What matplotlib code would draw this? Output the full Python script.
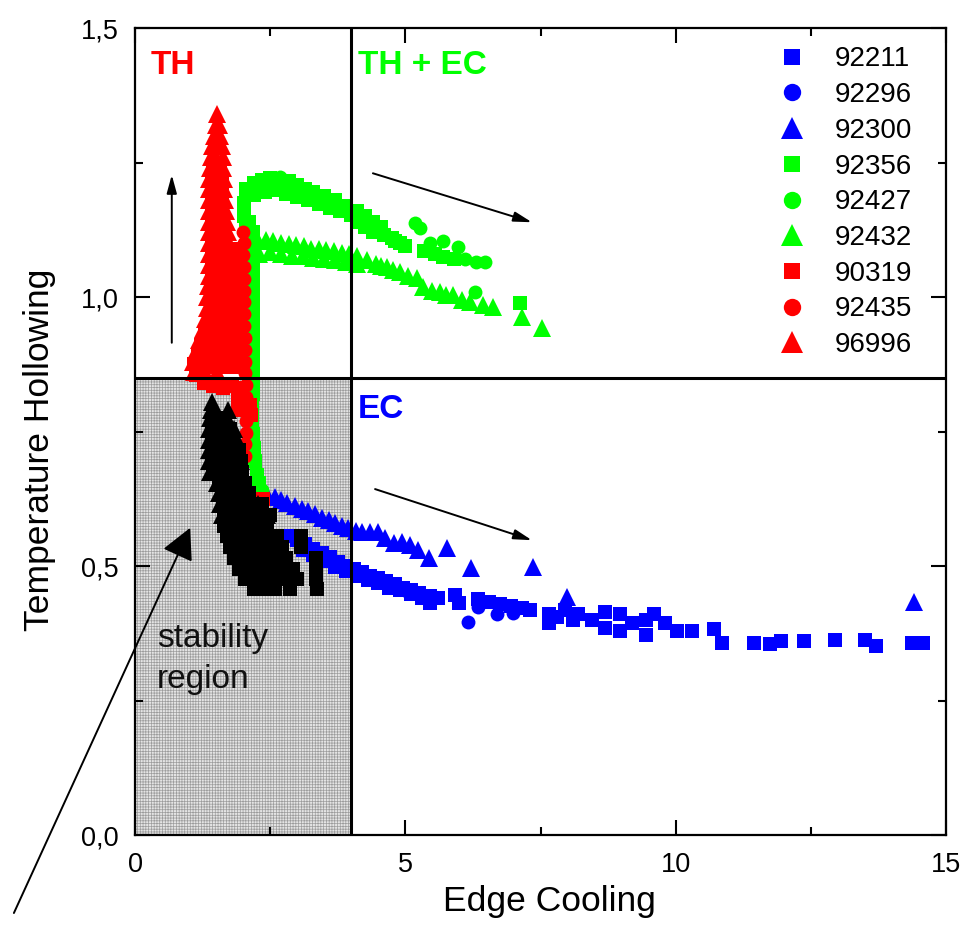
import numpy as np
import matplotlib
matplotlib.use("Agg")
from matplotlib import pyplot as plt
from matplotlib.patches import Rectangle
from matplotlib.ticker import MultipleLocator, FuncFormatter

plt.rcParams['font.family'] = ['Liberation Sans', 'DejaVu Sans']
plt.rcParams['hatch.linewidth'] = 0.5
plt.rcParams['hatch.color'] = '#9c9c9c'

#%% shots: edge cooling vs temperature hollowing, (x, y) pairs
# 92211 - EC, squares
ec_sq = [(2.85, 0.555), (3.0, 0.548), (3.15, 0.54), (3.3, 0.532), (3.45, 0.524), (3.6, 0.516),
         (3.75, 0.508), (3.9, 0.5), (4.05, 0.494), (4.2, 0.488), (4.35, 0.482), (4.5, 0.478),
         (4.65, 0.472), (4.8, 0.466), (4.95, 0.46), (5.1, 0.455), (5.25, 0.45), (5.45, 0.445),
         (5.6, 0.44), (3.1, 0.53), (3.3, 0.52), (3.5, 0.51), (3.7, 0.498), (3.9, 0.49),
         (4.1, 0.482), (4.3, 0.474), (4.5, 0.468), (4.7, 0.46), (4.9, 0.455), (5.1, 0.448),
         (5.3, 0.44), (5.45, 0.432), (5.92, 0.446), (6.0, 0.432), (6.35, 0.438), (6.55, 0.434),
         (6.75, 0.43), (6.95, 0.425), (7.15, 0.422), (7.3, 0.418), (7.65, 0.41), (7.65, 0.395),
         (7.8, 0.405), (7.95, 0.418), (8.1, 0.40), (8.2, 0.41), (8.45, 0.40), (8.7, 0.415),
         (8.7, 0.385), (8.97, 0.41), (8.97, 0.38), (9.2, 0.395), (9.45, 0.40), (9.45, 0.372),
         (9.6, 0.41), (9.8, 0.395), (10.03, 0.38), (10.3, 0.38), (10.7, 0.383), (10.85, 0.357),
         (11.45, 0.357), (11.75, 0.355), (11.95, 0.36), (12.37, 0.36), (12.95, 0.362),
         (13.5, 0.362), (13.7, 0.352), (14.37, 0.356), (14.57, 0.356)]
# 92296 - EC, circles
ec_ci = [(5.05, 0.452), (5.4, 0.44), (6.35, 0.424), (6.16, 0.396), (6.7, 0.41), (7.0, 0.413)]
# 92300 - EC, triangles
ec_tr = [(2.45, 0.632), (2.58, 0.628), (2.7, 0.622), (2.82, 0.618), (2.95, 0.612), (3.08, 0.606),
         (3.2, 0.602), (3.32, 0.596), (3.45, 0.59), (3.58, 0.585), (3.7, 0.58), (3.82, 0.575),
         (3.94, 0.57), (4.08, 0.566), (4.2, 0.563), (4.35, 0.563), (4.49, 0.563), (4.62, 0.552),
         (4.79, 0.543), (4.94, 0.545), (5.09, 0.539), (5.23, 0.530), (5.44, 0.515), (5.77, 0.533),
         (6.21, 0.496), (7.36, 0.498), (7.99, 0.442), (14.41, 0.433)]

# 92356 - TH + EC, squares
thec_sq = [(2.02, 1.175), (2.02, 1.15), (2.05, 1.13), (2.05, 1.2), (2.2, 1.212), (2.35, 1.218),
           (2.5, 1.222), (2.85, 1.215), (3.0, 1.208), (3.15, 1.2), (3.3, 1.195), (3.5, 1.188),
           (3.7, 1.18), (3.9, 1.17), (2.2, 1.19), (2.4, 1.195), (2.6, 1.198), (2.8, 1.192),
           (3.0, 1.185), (3.2, 1.18), (3.4, 1.172), (3.6, 1.165), (3.8, 1.16), (4.0, 1.152),
           (4.1, 1.16), (4.1, 1.14), (4.25, 1.15), (4.25, 1.13), (4.4, 1.14), (4.4, 1.12),
           (4.55, 1.13), (4.6, 1.115), (4.75, 1.11), (4.8, 1.105), (4.9, 1.1), (5.0, 1.095),
           (5.35, 1.085), (5.55, 1.08), (5.7, 1.075), (5.9, 1.07), (7.12, 0.989),
           (2.1, 1.14), (2.18, 1.12), (2.18, 1.095), (2.18, 1.07), (2.18, 1.045), (2.18, 1.02),
           (2.18, 0.995), (2.18, 0.97), (2.18, 0.945), (2.18, 0.92), (2.18, 0.895), (2.18, 0.87),
           (2.18, 0.845), (2.18, 0.82), (2.17, 0.795), (2.17, 0.77), (2.18, 0.745), (2.2, 0.72),
           (2.22, 0.695), (2.25, 0.67), (2.3, 0.655)]
# 92427 - TH + EC, circles
thec_ci = [(2.68, 1.224), (5.18, 1.138), (5.27, 1.128), (5.45, 1.1), (5.7, 1.105), (5.97, 1.093),
           (6.1, 1.07), (6.3, 1.065), (6.47, 1.065), (6.29, 1.009), (2.35, 0.641)]
# 92432 - TH + EC, triangles
thec_tr = [(2.28, 1.104), (2.42, 1.106), (2.56, 1.104), (2.70, 1.1), (2.84, 1.098), (2.98, 1.096),
           (3.12, 1.094), (3.26, 1.09), (3.40, 1.09), (3.54, 1.088), (3.68, 1.086), (3.82, 1.082),
           (3.96, 1.08), (4.10, 1.076), (2.30, 1.08), (2.50, 1.084), (2.70, 1.08), (2.90, 1.076),
           (3.10, 1.076), (3.30, 1.072), (3.50, 1.07), (3.70, 1.068), (3.90, 1.066), (4.10, 1.062),
           (4.29, 1.069), (4.45, 1.062), (4.55, 1.058), (4.66, 1.056), (4.78, 1.05), (4.9, 1.046),
           (5.05, 1.04), (5.21, 1.035), (5.33, 1.019), (5.5, 1.012), (5.64, 1.009), (5.76, 1.004),
           (5.88, 1.004), (6.05, 0.995), (6.2, 0.991), (6.44, 0.985), (6.62, 0.981), (7.16, 0.963),
           (7.53, 0.942)]

# 90319 - TH, squares (edge points, then the packed rows of the spike body)
th_sq = [(1.10, 0.875), (1.18, 0.895), (1.12, 0.855), (1.25, 0.86), (1.28, 0.84), (1.45, 0.835),
         (1.62, 0.83), (1.80, 0.835), (1.95, 0.83), (1.9, 0.81), (2.12, 0.80), (2.14, 0.78),
         (1.9, 0.79), (2.36, 0.625)]
th_sq_rows = [(1.25, [1.50]), (1.23, [1.44, 1.58]), (1.21, [1.42, 1.60]), (1.19, [1.42, 1.60]),
              (1.17, [1.42, 1.60]), (1.15, [1.42, 1.60]), (1.13, [1.42, 1.60]), (1.11, [1.42, 1.60]),
              (1.09, [1.42, 1.60, 1.74, 1.88]), (1.07, [1.42, 1.60, 1.74, 1.88]),
              (1.05, [1.42, 1.60, 1.74, 1.88]), (1.03, [1.42, 1.60, 1.74, 1.88]),
              (1.01, [1.42, 1.60, 1.74, 1.88]), (0.99, [1.40, 1.58, 1.74, 1.88]),
              (0.97, [1.40, 1.58, 1.74, 1.88]), (0.95, [1.36, 1.54, 1.70, 1.88]),
              (0.93, [1.30, 1.48, 1.66, 1.88]), (0.91, [1.22, 1.40, 1.58, 1.76, 1.88]),
              (0.89, [1.16, 1.34, 1.52, 1.70, 1.88]), (0.87, [1.12, 1.30, 1.48, 1.66, 1.84])]
# 92435 - TH, circles
th_ci = [(2.0, 1.12), (2.02, 1.10), (2.0, 1.078), (2.02, 1.056), (2.02, 1.034), (2.02, 1.012),
         (2.02, 0.99), (2.02, 0.968), (2.02, 0.946), (2.03, 0.924), (2.03, 0.902), (2.04, 0.88),
         (2.04, 0.858), (2.05, 0.836), (2.06, 0.814), (2.06, 0.792), (2.06, 0.77), (2.05, 0.748),
         (2.04, 0.726), (2.04, 0.704), (1.9, 1.06), (1.9, 1.0), (1.9, 0.94), (1.9, 0.88)]
# 96996 - TH, triangles
th_tr = [(1.52, 1.34), (1.49, 1.32), (1.55, 1.32), (1.46, 1.30), (1.58, 1.30),
         (1.42, 1.28), (1.54, 1.28), (1.60, 1.28), (1.40, 1.26), (1.50, 1.26), (1.62, 1.26),
         (1.38, 1.24), (1.52, 1.24), (1.63, 1.24), (1.37, 1.22), (1.50, 1.22), (1.64, 1.22),
         (1.36, 1.20), (1.50, 1.20), (1.65, 1.20), (1.36, 1.18), (1.50, 1.18), (1.66, 1.18),
         (1.36, 1.16), (1.52, 1.16), (1.68, 1.16), (1.36, 1.14), (1.52, 1.14), (1.70, 1.14),
         (1.37, 1.12), (1.54, 1.12), (1.72, 1.12), (1.37, 1.10), (1.54, 1.10), (1.74, 1.10),
         (1.37, 1.08), (1.56, 1.08), (1.76, 1.08), (1.36, 1.06), (1.56, 1.06), (1.76, 1.06),
         (1.36, 1.04), (1.55, 1.04), (1.75, 1.04), (1.35, 1.02), (1.54, 1.02), (1.74, 1.02),
         (1.34, 1.00), (1.52, 1.00), (1.72, 1.00), (1.33, 0.98), (1.52, 0.98), (1.72, 0.98),
         (1.30, 0.96), (1.48, 0.96), (1.70, 0.96), (1.25, 0.94), (1.44, 0.94), (1.66, 0.94),
         (1.18, 0.92), (1.38, 0.92), (1.60, 0.92), (1.12, 0.90), (1.32, 0.90), (1.56, 0.90),
         (1.08, 0.88), (1.28, 0.88), (1.52, 0.88), (1.10, 0.86), (1.30, 0.86), (1.52, 0.86)]

# points inside the stability region
stab_tr = [(1.42, 0.805), (1.40, 0.79), (1.72, 0.79), (1.38, 0.775), (1.52, 0.775), (1.70, 0.775),
           (1.36, 0.755), (1.52, 0.755), (1.72, 0.755), (1.84, 0.755),
           (1.36, 0.735), (1.52, 0.735), (1.70, 0.735), (1.88, 0.735),
           (1.36, 0.715), (1.52, 0.715), (1.70, 0.715), (1.92, 0.715),
           (1.36, 0.695), (1.52, 0.695), (1.70, 0.695), (1.96, 0.695),
           (1.38, 0.675), (1.54, 0.675), (1.72, 0.675), (1.98, 0.675),
           (1.52, 0.655), (1.66, 0.655), (1.82, 0.655), (2.00, 0.655),
           (1.56, 0.635), (1.72, 0.635), (1.88, 0.635), (2.04, 0.635),
           (1.58, 0.615), (1.76, 0.615), (1.94, 0.615), (2.10, 0.615), (2.28, 0.615),
           (1.60, 0.595), (1.78, 0.595), (1.96, 0.595), (2.14, 0.595), (2.32, 0.595), (2.45, 0.595)]
stab_sq = [(1.64, 0.575), (1.84, 0.575), (2.04, 0.575), (2.24, 0.575), (2.44, 0.575),
           (1.70, 0.555), (1.90, 0.555), (2.10, 0.555), (2.30, 0.555), (2.50, 0.555), (2.62, 0.555),
           (3.07, 0.555), (1.76, 0.535), (1.96, 0.535), (2.16, 0.535), (2.36, 0.535), (2.56, 0.535),
           (2.72, 0.535), (3.07, 0.535), (1.84, 0.515), (2.04, 0.515), (2.24, 0.515), (2.44, 0.515),
           (2.64, 0.515), (2.80, 0.515), (3.35, 0.515), (1.92, 0.495), (2.12, 0.495), (2.32, 0.495),
           (2.52, 0.495), (2.72, 0.495), (2.92, 0.495), (3.35, 0.495), (2.04, 0.475), (2.24, 0.475),
           (2.44, 0.475), (2.64, 0.475), (2.84, 0.475), (3.0, 0.475), (3.35, 0.475),
           (2.20, 0.457), (2.40, 0.457), (2.58, 0.457), (2.87, 0.457), (3.37, 0.457)]
stab_sq_rows = [(0.775, [1.44, 1.62]), (0.755, [1.42, 1.60, 1.76]), (0.735, [1.42, 1.60, 1.78]),
                (0.715, [1.42, 1.60, 1.78, 1.92]), (0.695, [1.42, 1.60, 1.78, 1.96]),
                (0.675, [1.44, 1.62, 1.80, 1.98]), (0.655, [1.56, 1.74, 1.90, 2.04]),
                (0.635, [1.60, 1.78, 1.96, 2.10]), (0.615, [1.62, 1.80, 1.98, 2.16, 2.34]),
                (0.595, [1.64, 1.82, 2.00, 2.18, 2.36, 2.50])]

x_ticks = [0, 5, 10, 15]
y_ticks = [0.0, 0.5, 1.0, 1.5]
x_boundary = 4.0
y_boundary = 0.85

th_sq = th_sq + [(x, y) for y, xs in th_sq_rows for x in xs]
stab_sq = stab_sq + [(x, y) for y, xs in stab_sq_rows for x in xs]

#%%
fig = plt.figure(figsize=(9.72, 9.31), dpi=100)
ax = fig.add_axes([0.1389, 0.1031, 0.8344, 0.8668])

ax.add_patch(Rectangle((0, 0), x_boundary, y_boundary, facecolor='#e4e4e4',
                       hatch='++++++', edgecolor='#9c9c9c', linewidth=0, zorder=0))

blue, green, red = '#0000ff', '#00ff00', '#ff0000'
ms_sq, ms_ci, ms_tr = 9.5, 10, 12.5

def pts(data, marker, color, ms, label=None, z=2):
    a = np.array(data).T
    h, = ax.plot(a[0], a[1], linestyle='none', marker=marker, color=color,
                 markersize=ms, markeredgewidth=0, label=label, zorder=z)
    return h

handles = [
    pts(ec_sq, 's', blue, ms_sq, '92211'),
    pts(ec_ci, 'o', blue, ms_ci, '92296'),
    pts(ec_tr, '^', blue, ms_tr, '92300'),
    pts(thec_sq, 's', green, ms_sq, '92356', z=3),
    pts(thec_ci, 'o', green, ms_ci, '92427', z=3),
    pts(thec_tr, '^', green, ms_tr, '92432', z=3),
    pts(th_sq, 's', red, ms_sq, '90319', z=4),
    pts(th_ci, 'o', red, ms_ci, '92435', z=4),
    pts(th_tr, '^', red, ms_tr, '96996', z=4),
]
pts(stab_tr, '^', 'black', ms_tr, z=5)
pts(stab_sq, 's', 'black', ms_sq, z=5)

ax.axvline(x_boundary, color='black', lw=2.2, zorder=6)
ax.axhline(y_boundary, color='black', lw=2.2, zorder=6)

# trend arrows
small = dict(arrowstyle='-|>,head_length=1.1,head_width=0.3', color='black', lw=1.4,
             mutation_scale=10, shrinkA=0, shrinkB=0)
ax.annotate('', xy=(0.68, 1.227), xytext=(0.68, 0.915), arrowprops=small, zorder=7)
ax.annotate('', xy=(7.34, 1.139), xytext=(4.40, 1.230), arrowprops=small, zorder=7)
ax.annotate('', xy=(7.34, 0.548), xytext=(4.44, 0.643), arrowprops=small, zorder=7)
ax.annotate('', xy=(1.02, 0.571), xytext=(-2.24, -0.145), annotation_clip=False,
            arrowprops=dict(arrowstyle='-|>,head_length=0.97,head_width=0.5', color='black',
                            lw=1.4, mutation_scale=20, shrinkA=0, shrinkB=0, clip_on=False),
            zorder=7)

ax.text(0.28, 1.431, 'TH', color=red, fontsize=24, fontweight='bold', va='center', zorder=7)
ax.text(4.12, 1.431, 'TH + EC', color=green, fontsize=24, fontweight='bold', va='center', zorder=7)
ax.text(4.12, 0.79, 'EC', color=blue, fontsize=24, fontweight='bold', va='center', zorder=7)
ax.text(0.41, 0.327, 'stability\nregion', color='#111111', fontsize=24, va='center',
        linespacing=1.45, zorder=7)

ax.set_xlim(0, 15)
ax.set_ylim(0, 1.5)
ax.set_xticks(x_ticks)
ax.set_yticks(y_ticks)
ax.xaxis.set_minor_locator(MultipleLocator(2.5))
ax.yaxis.set_minor_locator(MultipleLocator(0.25))
ax.yaxis.set_major_formatter(FuncFormatter(lambda v, p: f'{v:.1f}'.replace('.', ',')))
ax.tick_params(which='both', direction='in', top=True, right=True, width=1.5, labelsize=19.5, pad=12)
ax.tick_params(which='major', length=11)
ax.tick_params(which='minor', length=5.5)
for s in ax.spines.values():
    s.set_linewidth(1.6)

ax.set_xlabel('Edge Cooling', fontsize=25.5)
ax.set_ylabel('Temperature Hollowing', fontsize=25.5)
ax.xaxis.set_label_coords(0.511, -0.062)
ax.yaxis.set_label_coords(-0.097, 0.477)

ax.legend(handles=handles, loc='upper right', bbox_to_anchor=(0.972, 0.991), frameon=False,
          fontsize=20, markerscale=1.25, handlelength=1.5, handletextpad=0.8,
          labelspacing=0.35, borderaxespad=0)

fig.savefig('out.png', dpi=100)
